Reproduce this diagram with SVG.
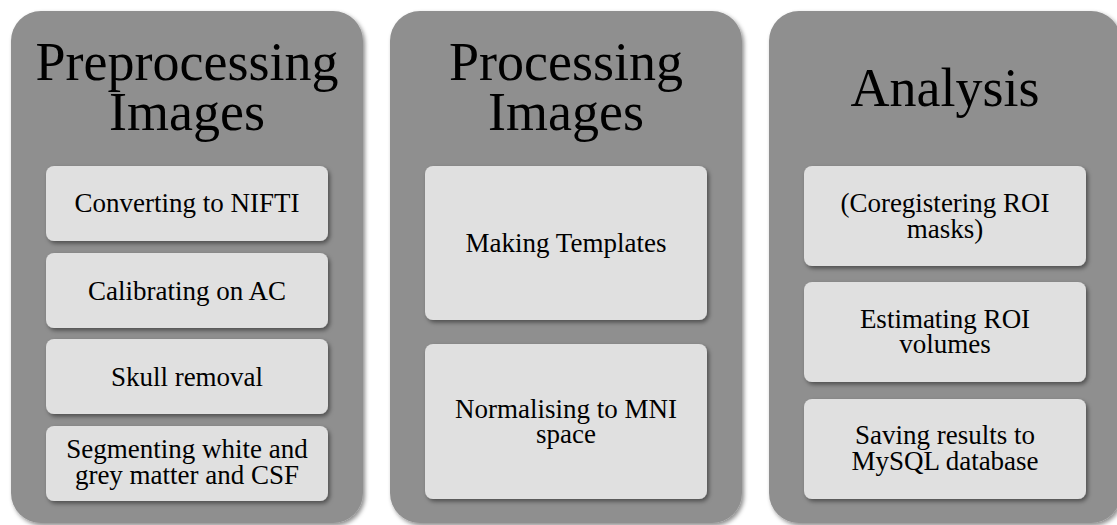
<svg xmlns="http://www.w3.org/2000/svg" width="1117" height="525" viewBox="0 0 1117 525">
  <defs>
    <filter id="shadow" x="-10%" y="-10%" width="130%" height="130%">
      <feDropShadow dx="2" dy="2.5" stdDeviation="2" flood-color="#000" flood-opacity="0.45"/>
    </filter>
    <style>
      .panel { fill: #8f8f8f; filter: url(#shadow); }
      .step { fill: #e0e0e0; filter: url(#shadow); }
      .title { font-family: "Liberation Serif", "DejaVu Serif", serif; font-size: 54px; fill: #000; text-anchor: middle; }
      .label { font-family: "Liberation Serif", "DejaVu Serif", serif; font-size: 27px; fill: #000; text-anchor: middle; }
    </style>
  </defs>
  <rect width="1117" height="525" fill="#ffffff"/>

  <!-- Stage 1: preprocessing -->
  <g id="preprocessing">
    <rect class="panel" x="11" y="11" width="352" height="512" rx="30"/>
    <text class="title" x="187" y="80">Preprocessing</text>
    <text class="title" x="187" y="130">Images</text>
  </g>
  <g id="converting-nifti">
    <rect class="step" x="46" y="166" width="282" height="75" rx="8"/>
    <text class="label" x="187" y="212">Converting to NIFTI</text>
  </g>
  <g id="calibrating-ac">
    <rect class="step" x="46" y="253" width="282" height="75" rx="8"/>
    <text class="label" x="187" y="299.5">Calibrating on AC</text>
  </g>
  <g id="skull-removal">
    <rect class="step" x="46" y="339" width="282" height="75" rx="8"/>
    <text class="label" x="187" y="386">Skull removal</text>
  </g>
  <g id="segmenting">
    <rect class="step" x="46" y="426" width="282" height="75" rx="8"/>
    <text class="label" x="187" y="457.5">Segmenting white and</text>
    <text class="label" x="187" y="484">grey matter and CSF</text>
  </g>

  <!-- Stage 2: processing -->
  <g id="processing">
    <rect class="panel" x="390" y="11" width="352" height="512" rx="30"/>
    <text class="title" x="566" y="80">Processing</text>
    <text class="title" x="566" y="130">Images</text>
  </g>
  <g id="making-templates">
    <rect class="step" x="425" y="166" width="282" height="154" rx="8"/>
    <text class="label" x="566" y="252">Making Templates</text>
  </g>
  <g id="normalising-mni">
    <rect class="step" x="425" y="344" width="282" height="155" rx="8"/>
    <text class="label" x="566" y="417.5">Normalising to MNI</text>
    <text class="label" x="566" y="443">space</text>
  </g>

  <!-- Stage 3: analysis -->
  <g id="analysis">
    <rect class="panel" x="769" y="11" width="352" height="512" rx="30"/>
    <text class="title" x="945" y="106">Analysis</text>
  </g>
  <g id="coregistering-roi">
    <rect class="step" x="804" y="166" width="282" height="100" rx="8"/>
    <text class="label" x="945" y="212">(Coregistering ROI</text>
    <text class="label" x="945" y="237.5">masks)</text>
  </g>
  <g id="estimating-roi">
    <rect class="step" x="804" y="282" width="282" height="100" rx="8"/>
    <text class="label" x="945" y="327.5">Estimating ROI</text>
    <text class="label" x="945" y="353">volumes</text>
  </g>
  <g id="saving-results">
    <rect class="step" x="804" y="399" width="282" height="100" rx="8"/>
    <text class="label" x="945" y="444">Saving results to</text>
    <text class="label" x="945" y="470">MySQL database</text>
  </g>

  <!-- no connectors between stages -->
  <g id="connectors"/>
</svg>
